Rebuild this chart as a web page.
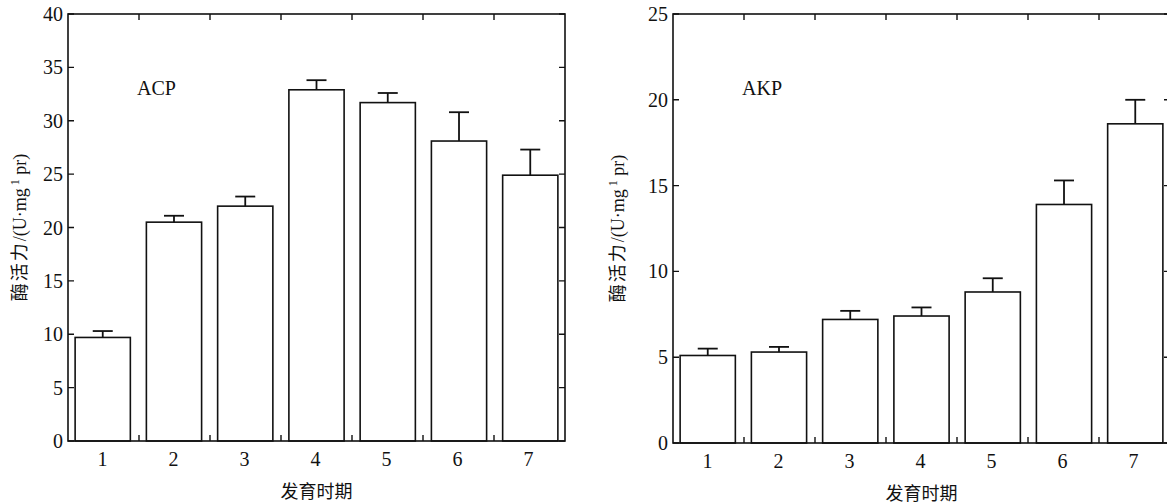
<!DOCTYPE html>
<html>
<head>
<meta charset="utf-8">
<script src="https://cdn.jsdelivr.net/npm/d3@7"></script>
<style>
  body { margin: 0; background: #fff; }
  svg { display: block; }
  text { font-family: 'Liberation Serif', 'DejaVu Serif', serif; fill: #111; }
  .cjk { font-family: 'Noto Sans CJK SC', sans-serif; }
</style>
</head>
<body>
<div id="chart"></div>
<script>
const width = 1167
const height = 504

// data
const periods = ['1', '2', '3', '4', '5', '6', '7']
const acpValues = [9.7, 20.5, 22.0, 32.9, 31.7, 28.1, 24.9]
const acpErrors = [0.6, 0.6, 0.9, 0.9, 0.9, 2.7, 2.4]
const akpValues = [5.1, 5.3, 7.2, 7.4, 8.8, 13.9, 18.6]
const akpErrors = [0.4, 0.3, 0.5, 0.5, 0.8, 1.4, 1.4]
const acpTicks = [0, 5, 10, 15, 20, 25, 30, 35, 40]
const akpTicks = [0, 5, 10, 15, 20, 25]

const svg = d3
  .select('#chart')
  .append('svg')
  .attr('width', width)
  .attr('height', height)

function drawPanel(opts) {
  const { left, right, top, bottom, yMax, ticks, values, errors, name, labelX } = opts

  const x = d3
    .scaleBand()
    .domain(periods)
    .range([left, right])
    .paddingInner(0.225)
    .paddingOuter(0.1)

  const band = d3
    .scaleBand()
    .domain(periods)
    .range([left, right])

  const y = d3
    .scaleLinear()
    .domain([0, yMax])
    .range([bottom, top])

  const g = svg.append('g')

  // bars
  g.selectAll('.bar')
    .data(values)
    .enter()
    .append('rect')
    .attr('class', 'bar')
    .attr('x', (d, i) => x(periods[i]))
    .attr('y', d => y(d))
    .attr('width', x.bandwidth())
    .attr('height', d => y(0) - y(d))
    .attr('fill', 'white')
    .attr('stroke', '#111')
    .attr('stroke-width', 1.6)

  // error bars (upper only)
  const errs = g
    .selectAll('.err')
    .data(values)
    .enter()
    .append('g')
    .attr('class', 'err')
  errs
    .append('line')
    .attr('x1', (d, i) => x(periods[i]) + x.bandwidth() / 2)
    .attr('x2', (d, i) => x(periods[i]) + x.bandwidth() / 2)
    .attr('y1', d => y(d))
    .attr('y2', (d, i) => y(d + errors[i]))
  errs
    .append('line')
    .attr('x1', (d, i) => x(periods[i]) + x.bandwidth() / 2 - 10)
    .attr('x2', (d, i) => x(periods[i]) + x.bandwidth() / 2 + 10)
    .attr('y1', (d, i) => y(d + errors[i]))
    .attr('y2', (d, i) => y(d + errors[i]))
  errs.selectAll('line').attr('stroke', '#111').attr('stroke-width', 1.8)

  // frame
  g.append('rect')
    .attr('x', left)
    .attr('y', top)
    .attr('width', right - left)
    .attr('height', bottom - top)
    .attr('fill', 'none')
    .attr('stroke', '#111')
    .attr('stroke-width', 1.6)

  // y ticks on both sides, pointing inwards
  g.selectAll('.ytick')
    .data(ticks)
    .enter()
    .append('path')
    .attr('d', d => 'M' + left + ',' + y(d) + 'h6M' + right + ',' + y(d) + 'h-6')
    .attr('stroke', '#111')
    .attr('stroke-width', 1.4)

  g.selectAll('.ylab')
    .data(ticks)
    .enter()
    .append('text')
    .attr('x', left - 5)
    .attr('y', d => y(d))
    .attr('dy', '0.35em')
    .attr('text-anchor', 'end')
    .attr('font-size', 20)
    .text(d => d)

  // x ticks at band boundaries, top and bottom
  const bounds = periods.slice(1).map(p => band(p))
  g.selectAll('.xtick')
    .data(bounds)
    .enter()
    .append('path')
    .attr('d', d => 'M' + d + ',' + bottom + 'v-6M' + d + ',' + top + 'v6')
    .attr('stroke', '#111')
    .attr('stroke-width', 1.4)

  g.selectAll('.xlab')
    .data(periods)
    .enter()
    .append('text')
    .attr('x', d => band(d) + band.bandwidth() / 2 - 1)
    .attr('y', bottom + 25)
    .attr('text-anchor', 'middle')
    .attr('font-size', 20)
    .text(d => d)

  g.append('text')
    .attr('class', 'cjk')
    .attr('x', (left + right) / 2)
    .attr('y', bottom + 57)
    .attr('text-anchor', 'middle')
    .attr('font-size', 18)
    .text('发育时期')

  // rotated y label
  const yl = g
    .append('text')
    .attr('transform', 'translate(' + labelX + ',' + (top + bottom) / 2 + ') rotate(-90)')
    .attr('text-anchor', 'middle')
    .attr('font-size', 18)
  yl.append('tspan').attr('class', 'cjk').attr('letter-spacing', 2).text('酶活力')
  yl.append('tspan').text('/(U·mg')
  yl.append('tspan').attr('dy', -7).attr('font-size', 12).text('  1')
  yl.append('tspan').attr('dy', 7).text('  pr)')

  g.append('text')
    .attr('x', left + 69)
    .attr('y', top + 81)
    .attr('font-size', 20)
    .text(name)
}

drawPanel({
  left: 68,
  right: 565,
  top: 14,
  bottom: 441,
  yMax: 40,
  ticks: acpTicks,
  values: acpValues,
  errors: acpErrors,
  name: 'ACP',
  labelX: 26
})

drawPanel({
  left: 673,
  right: 1170,
  top: 14,
  bottom: 443,
  yMax: 25,
  ticks: akpTicks,
  values: akpValues,
  errors: akpErrors,
  name: 'AKP',
  labelX: 624
})
</script>
</body>
</html>
